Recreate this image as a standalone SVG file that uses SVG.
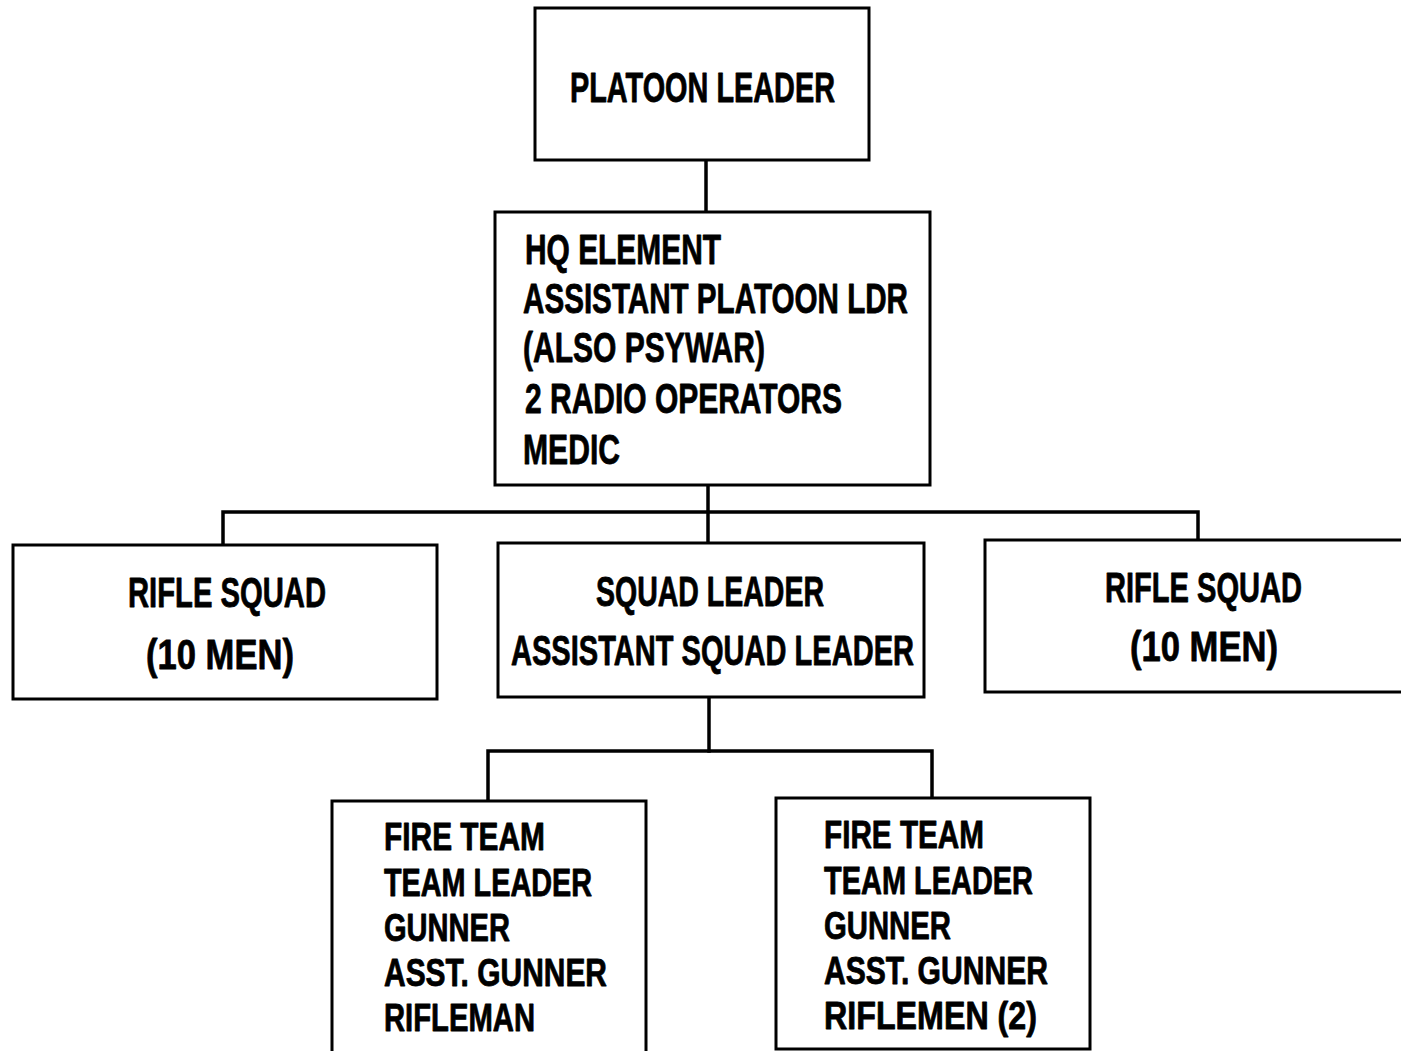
<svg xmlns="http://www.w3.org/2000/svg" width="1401" height="1051" viewBox="0 0 1401 1051">
  <style>
    .box { fill: #ffffff; stroke: #000000; stroke-width: 3; }
    .wire { fill: none; stroke: #000000; stroke-width: 3.5; stroke-linecap: square; }
    text { font-family: "Liberation Sans", Arial, sans-serif; font-weight: bold; font-size: 42px; fill: #000000; stroke: #000000; stroke-width: 0.8; stroke-linejoin: round; }
    .team text { font-size: 38px; }
  </style>
  <rect x="0" y="0" width="1401" height="1051" fill="#ffffff"/>

  <!-- connectors -->
  <g id="connectors">
    <path class="wire" d="M706,160 V212"/>
    <path class="wire" d="M708,485 V543"/>
    <path class="wire" d="M223,545 V512 H1198 V540"/>
    <path class="wire" d="M709,697 V751"/>
    <path class="wire" d="M488,801 V751 H932 V798"/>
  </g>

  <g id="platoon-leader">
    <rect class="box" x="535" y="8" width="334" height="152"/>
    <text x="570" y="102" textLength="265" lengthAdjust="spacingAndGlyphs">PLATOON LEADER</text>
  </g>

  <g id="hq-element">
    <rect class="box" x="495" y="212" width="435" height="273"/>
    <text x="525" y="264" textLength="196" lengthAdjust="spacingAndGlyphs">HQ ELEMENT</text>
    <text x="523" y="313" textLength="385" lengthAdjust="spacingAndGlyphs">ASSISTANT PLATOON LDR</text>
    <text x="523" y="362" textLength="242" lengthAdjust="spacingAndGlyphs">(ALSO PSYWAR)</text>
    <text x="525" y="413" textLength="317" lengthAdjust="spacingAndGlyphs">2 RADIO OPERATORS</text>
    <text x="523" y="464" textLength="97" lengthAdjust="spacingAndGlyphs">MEDIC</text>
  </g>

  <g id="rifle-squad-left">
    <rect class="box" x="13" y="545" width="424" height="154"/>
    <text x="128" y="607" textLength="198" lengthAdjust="spacingAndGlyphs">RIFLE SQUAD</text>
    <text x="146" y="669" textLength="148" lengthAdjust="spacingAndGlyphs">(10 MEN)</text>
  </g>

  <g id="squad-leader">
    <rect class="box" x="498" y="543" width="426" height="154"/>
    <text x="596" y="606" textLength="228" lengthAdjust="spacingAndGlyphs">SQUAD LEADER</text>
    <text x="511" y="665" textLength="403" lengthAdjust="spacingAndGlyphs">ASSISTANT SQUAD LEADER</text>
  </g>

  <g id="rifle-squad-right">
    <rect class="box" x="985" y="540" width="420" height="152"/>
    <text x="1105" y="602" textLength="197" lengthAdjust="spacingAndGlyphs">RIFLE SQUAD</text>
    <text x="1130" y="661" textLength="148" lengthAdjust="spacingAndGlyphs">(10 MEN)</text>
  </g>

  <g id="fire-team-left" class="team">
    <rect class="box" x="332" y="801" width="314" height="260"/>
    <text x="384" y="850" textLength="161" lengthAdjust="spacingAndGlyphs">FIRE TEAM</text>
    <text x="384" y="896" textLength="208" lengthAdjust="spacingAndGlyphs">TEAM LEADER</text>
    <text x="384" y="941" textLength="126" lengthAdjust="spacingAndGlyphs">GUNNER</text>
    <text x="384" y="986" textLength="223" lengthAdjust="spacingAndGlyphs">ASST. GUNNER</text>
    <text x="384" y="1031" textLength="151" lengthAdjust="spacingAndGlyphs">RIFLEMAN</text>
  </g>

  <g id="fire-team-right" class="team">
    <rect class="box" x="776" y="798" width="314" height="251"/>
    <text x="824" y="848" textLength="160" lengthAdjust="spacingAndGlyphs">FIRE TEAM</text>
    <text x="824" y="894" textLength="209" lengthAdjust="spacingAndGlyphs">TEAM LEADER</text>
    <text x="824" y="939" textLength="127" lengthAdjust="spacingAndGlyphs">GUNNER</text>
    <text x="824" y="984" textLength="224" lengthAdjust="spacingAndGlyphs">ASST. GUNNER</text>
    <text x="824" y="1029" textLength="213" lengthAdjust="spacingAndGlyphs">RIFLEMEN (2)</text>
  </g>
</svg>
